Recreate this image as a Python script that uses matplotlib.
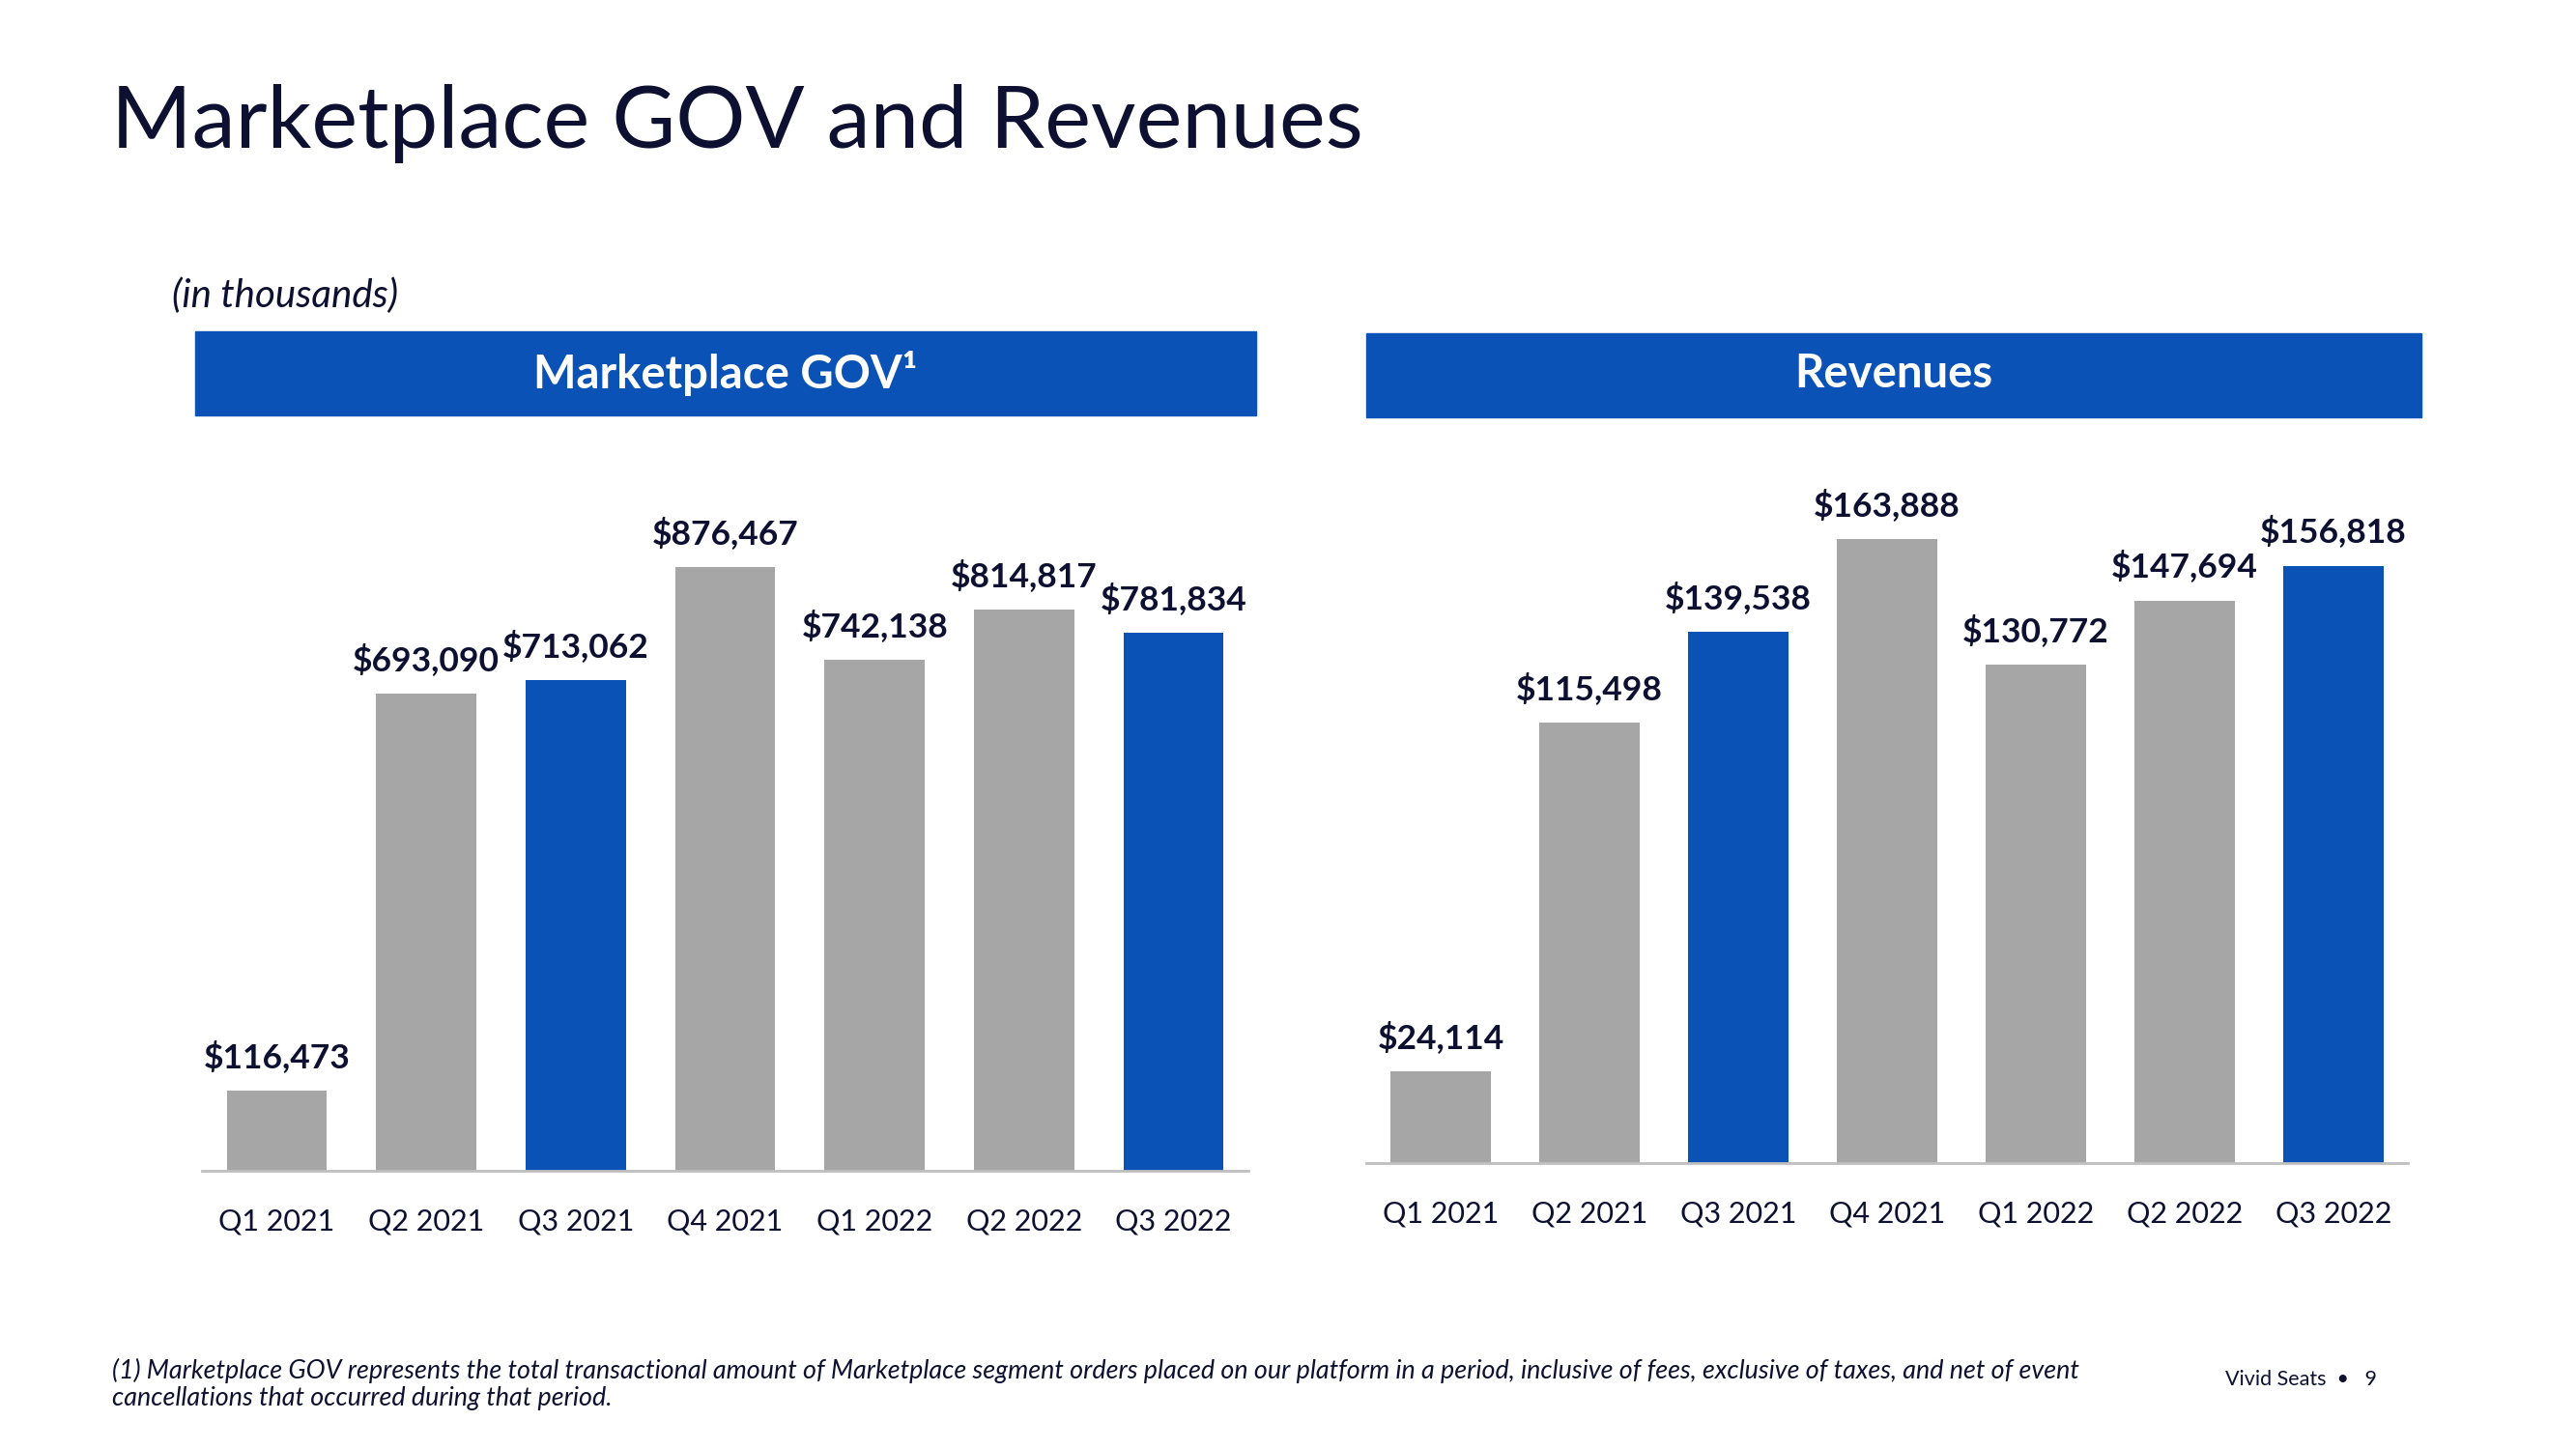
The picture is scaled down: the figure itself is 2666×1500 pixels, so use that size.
import matplotlib.pyplot as plt
from matplotlib.patches import Rectangle

plt.rcParams['font.family'] = ['Lato', 'DejaVu Sans']

# data (in thousands)
quarters = ["Q1 2021", "Q2 2021", "Q3 2021", "Q4 2021", "Q1 2022", "Q2 2022", "Q3 2022"]
gov = [116473, 693090, 713062, 876467, 742138, 814817, 781834]
revenues = [24114, 115498, 139538, 163888, 130772, 147694, 156818]
highlight = [False, False, True, False, False, False, True]

BLUE = '#0B52B7'
GRAY = '#A6A6A6'
NAVY = '#0D1030'

fig = plt.figure(figsize=(26.66, 15), dpi=100)
W, H = 2666, 1500


def fx(px):
    return px / W


def fy(py):
    return 1 - py / H


def draw_panel(ax, values, ymax):
    colors = [BLUE if h else GRAY for h in highlight]
    x = range(len(values))
    ax.bar(x, values, width=0.67, color=colors, zorder=2)
    for i, v in enumerate(values):
        ax.annotate(f"${v:,}", (i, v), xytext=(0, 13), textcoords='offset points',
                    ha='center', va='bottom', fontsize=25.5, fontweight='bold', color=NAVY)
    ax.set_xlim(-0.5, 6.5)
    ax.set_ylim(0, ymax)
    ax.set_xticks(list(x))
    ax.set_xticklabels(quarters, fontsize=22, color=NAVY)
    ax.tick_params(axis='x', length=0, pad=28)
    ax.set_yticks([])
    for s in ['top', 'right', 'left']:
        ax.spines[s].set_visible(False)
    ax.spines['bottom'].set_color('#BFBFBF')
    ax.spines['bottom'].set_linewidth(2)


# left panel: Marketplace GOV
ax1 = fig.add_axes([fx(209), fy(1212), fx(1083), (1212 - 496) / H])
draw_panel(ax1, gov, 1004700)

# right panel: Revenues
ax2 = fig.add_axes([fx(1414), fy(1204), fx(1078), (1204 - 493) / H])
draw_panel(ax2, revenues, 180277)

# header bars
fig.patches.append(Rectangle((fx(202), fy(430)), fx(1098), 87 / H, transform=fig.transFigure,
                             color=BLUE, zorder=0))
fig.patches.append(Rectangle((fx(1414), fy(432)), fx(1092), 87 / H, transform=fig.transFigure,
                             color=BLUE, zorder=0))
fig.text(fx(751), fy(386), "Marketplace GOV¹", ha='center', va='center', fontsize=34,
         fontweight='bold', color='white')
fig.text(fx(1960), fy(387), "Revenues", ha='center', va='center', fontsize=34,
         fontweight='bold', color='white')

# titles and notes
fig.text(fx(115), fy(128), "Marketplace GOV and Revenues", ha='left', va='center',
         fontsize=65, color=NAVY)
fig.text(fx(178), fy(306), "(in thousands)", ha='left', va='center', fontsize=29,
         style='italic', color=NAVY)
fig.text(fx(116), fy(1433),
         "(1) Marketplace GOV represents the total transactional amount of Marketplace segment orders "
         "placed on our platform in a period, inclusive of fees, exclusive of taxes, and net of event\n"
         "cancellations that occurred during that period.",
         ha='left', va='center', fontsize=19.4, style='italic', color=NAVY, linespacing=1.15)
fig.text(fx(2303), fy(1428), "Vivid Seats  \u2022   9", ha='left', va='center', fontsize=15.5,
         color=NAVY)

fig.savefig('out.png', dpi=100, facecolor='white')
